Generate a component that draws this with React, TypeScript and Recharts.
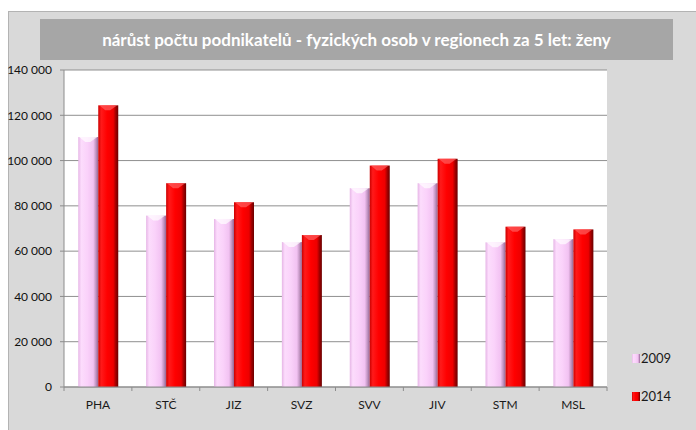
import React from "react";
import { BarChart, Bar, XAxis, YAxis, CartesianGrid, Legend } from "recharts";

const categories = ["PHA", "STČ", "JIZ", "SVZ", "SVV", "JIV", "STM", "MSL"];
const values2009 = [110400, 75700, 74200, 64000, 87800, 90000, 63900, 65300];
const values2014 = [124400, 90000, 81600, 67100, 97800, 100800, 70800, 69600];
const yTicks = [0, 20000, 40000, 60000, 80000, 100000, 120000, 140000];
const seriesNames = ["2009", "2014"];
const titleText = "nárůst počtu podnikatelů - fyzických osob v regionech za 5 let: ženy";

const data = categories.map((c, i) => ({ name: c, y2009: values2009[i], y2014: values2014[i] }));

const W = 696;
const H = 430;
const MARGIN = { top: 70, right: 89, bottom: 0, left: 8 };
const YAXIS_W = 56;
const BAND = (W - MARGIN.left - MARGIN.right - YAXIS_W) / categories.length;

const FONT = "Lato, 'Noto Sans', sans-serif";

const fmt = (v: number) => String(v).replace(/\B(?=(\d{3})+(?!\d))/g, " ");

const XTick = (props: any) => {
  const { x, y, payload, index } = props;
  return (
    <g>
      <line x1={x - BAND / 2} x2={x - BAND / 2} y1={y - 8} y2={y - 4} stroke="#8c8c8c" />
      {index === categories.length - 1 && (
        <line x1={x + BAND / 2} x2={x + BAND / 2} y1={y - 8} y2={y - 4} stroke="#8c8c8c" />
      )}
      <text x={x} y={y + 14} textAnchor="middle" fontSize={12} fill="#1a1a1a" fontFamily={FONT}>
        {payload.value}
      </text>
    </g>
  );
};

const CylBar = (props: any) => {
  const { x, y, width, height, gradId, capColor } = props;
  if (!height || height <= 0) return null;
  const cap = Math.min(5, height);
  return (
    <g>
      <rect x={x} y={y} width={width} height={height} fill={`url(#${gradId})`} />
      <polygon
        points={`${x + 1},${y} ${x + width - 1},${y} ${x + width * 0.6},${y + cap} ${x + width * 0.35},${y + cap}`}
        fill={capColor}
        opacity={0.7}
      />
    </g>
  );
};

const LegendContent = () => (
  <div style={{ fontFamily: FONT, fontSize: 13, color: "#1a1a1a" }}>
    {seriesNames.map((n, i) => (
      <div key={n} style={{ display: "flex", alignItems: "center", height: 20, marginBottom: i === 0 ? 18 : 0 }}>
        <svg width={8} height={9} style={{ marginRight: 1 }}>
          <rect x={0} y={0} width={8} height={9} fill={i === 0 ? "url(#g2009)" : "url(#g2014)"} />
        </svg>
        <span>{n}</span>
      </div>
    ))}
  </div>
);

export default function App() {
  return (
    <div style={{ position: "relative", width: W, height: H, overflow: "hidden" }}>
      <style>{`body{margin:0}`}</style>
      <div
        style={{
          position: "absolute",
          left: 8,
          top: 11,
          width: 690,
          height: 420,
          background: "#d9d9d9",
          border: "1px solid #b3b3b3",
        }}
      />
      <div style={{ position: "absolute", left: 0, top: 0 }}>
        <BarChart width={W} height={H} data={data} margin={MARGIN} barCategoryGap="21%" barGap={0}>
          <defs>
            <linearGradient id="g2009" x1="0" y1="0" x2="1" y2="0">
              <stop offset="0%" stopColor="#e6b5e6" />
              <stop offset="15%" stopColor="#fcdcfc" />
              <stop offset="45%" stopColor="#fad2fa" />
              <stop offset="75%" stopColor="#f2c2f2" />
              <stop offset="88%" stopColor="#c396c3" />
              <stop offset="100%" stopColor="#946594" />
            </linearGradient>
            <linearGradient id="g2014" x1="0" y1="0" x2="1" y2="0">
              <stop offset="0%" stopColor="#cc0000" />
              <stop offset="15%" stopColor="#ff1a1a" />
              <stop offset="45%" stopColor="#ff0000" />
              <stop offset="75%" stopColor="#ee0000" />
              <stop offset="88%" stopColor="#a00000" />
              <stop offset="100%" stopColor="#6a0000" />
            </linearGradient>
          </defs>
          <CartesianGrid vertical={false} fill="#ffffff" stroke="#8f8f8f" />
          <XAxis
            dataKey="name"
            height={43}
            stroke="#8c8c8c"
            tickLine={false}
            tick={<XTick />}
            interval={0}
          />
          <YAxis
            width={YAXIS_W}
            domain={[0, 140000]}
            ticks={yTicks}
            tickFormatter={fmt}
            stroke="#8c8c8c"
            tickSize={4}
            tickMargin={8}
            tick={{ fill: "#111", fontSize: 12, fontFamily: FONT }}
            interval={0}
          />
          <Legend
            layout="vertical"
            align="center"
            verticalAlign="middle"
            wrapperStyle={{ left: 632, top: 348, width: 60 }}
            content={<LegendContent />}
          />
          <Bar
            dataKey="y2009"
            name="2009"
            isAnimationActive={false}
            shape={(p: any) => <CylBar {...p} gradId="g2009" capColor="#ffffff" />}
          />
          <Bar
            dataKey="y2014"
            name="2014"
            isAnimationActive={false}
            shape={(p: any) => <CylBar {...p} gradId="g2014" capColor="#ff6060" />}
          />
        </BarChart>
      </div>
      <div
        style={{
          position: "absolute",
          left: 40,
          top: 19,
          width: 633,
          height: 41,
          background: "#a6a6a6",
          color: "#ffffff",
          fontFamily: FONT,
          fontWeight: 700,
          fontSize: 17,
          lineHeight: "41px",
          textAlign: "center",
        }}
      >
        {titleText}
      </div>
    </div>
  );
}
